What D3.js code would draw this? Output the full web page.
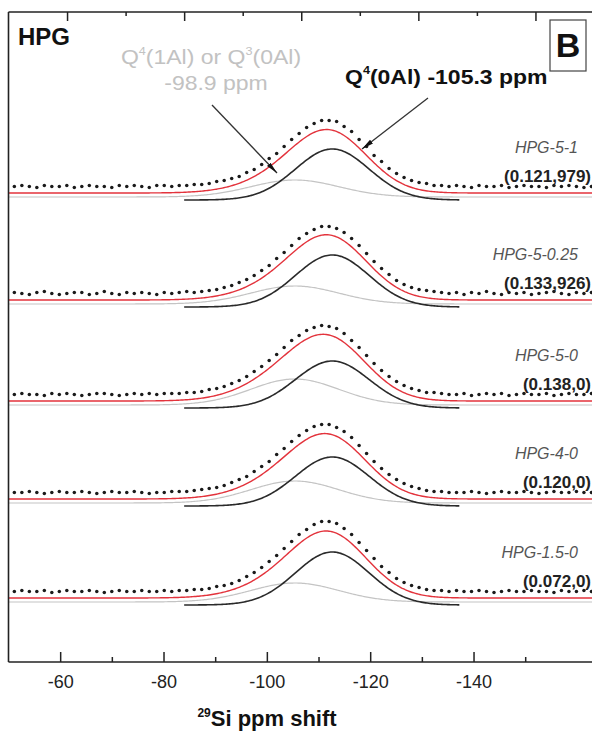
<!DOCTYPE html>
<html><head><meta charset="utf-8">
<script src="https://cdn.jsdelivr.net/npm/d3@7"></script>
<style>
body{margin:0;background:#fff}
svg{display:block;font-family:Arial,"Liberation Sans",sans-serif}
</style>
</head><body>
<svg id="c" width="592" height="733"></svg>
<script>
// ---------- data ----------
const samples = ["HPG-5-1", "HPG-5-0.25", "HPG-5-0", "HPG-4-0", "HPG-1.5-0"];
const sampleParams = ["(0.121,979)", "(0.133,926)", "(0.138,0)", "(0.120,0)", "(0.072,0)"];
// stacking offset (intensity units) of each spectrum's fit baseline
const stackOffset = [469, 362, 261, 163, 64];
// fitted components: Q4(1Al)/Q3(0Al) at -98.9 ppm, Q4(0Al) at -105.3 ppm
const peakCenters = [-98.9, -105.3];
const peakSigma = [7.5, 6.3];
const q4_1AlAmp = [17, 18, 26, 22, 19];
const q4_0AlAmp = [51, 52, 47, 49, 53];
// experimental points (intensity) on ppm grid dotStart + i*dotStep
const dotStart = -51, dotStep = -1.28;
const dots1 = [0,1,0,-1,1,0,0,1,-1,0,1,0,0,-1,1,0,1,0,-1,1, 1,0,1,1,2,2,3,5,6,8,10,14,17,22,28,33,40,47,53,59,63,66,66,65,60,55,47,40,31,25,18,13,9,6,4,3,1,1,0,1, 0,-1,1,0,0,1,-1,0,1,0,0,-1,1,0,1,0,-1,0];
const dots2 = [1,0,-1,1,2,0,-1,0,1,1,-1,0,2,0,-1,1,0,1,0,-1, 1,0,1,2,1,2,3,4,6,8,11,14,18,23,28,35,41,48,55,60,64,67,67,65,61,55,48,40,32,25,19,13,9,6,4,3,2,1,0,1, -1,1,0,2,0,-1,1,0,1,-1,0,1,2,0,-1,1,0,1];
const dots3 = [0,1,0,0,-1,1,0,1,0,-1,0,1,1,0,-1,0,1,0,1,0, 1,1,1,2,2,3,5,6,8,11,14,18,23,28,34,40,47,54,59,64,67,69,68,66,61,54,47,39,31,24,18,13,9,6,4,2,2,1,0,0, 1,-1,0,1,0,1,-1,0,1,0,0,1,-1,0,1,0,0,1];
const dots4 = [0,0,1,0,-1,0,1,0,0,1,0,-1,0,1,0,0,1,0,-1,0, 0,1,1,1,2,3,4,5,7,10,13,16,21,26,31,38,44,51,57,62,66,68,68,65,61,55,47,39,31,24,18,13,9,6,4,2,1,1,0,0, 0,1,0,-1,0,1,0,0,1,0,-1,0,1,0,0,1,0,0];
const dots5 = [0,1,0,0,1,-1,0,1,0,0,1,0,-1,0,1,0,0,1,0,0, 1,0,1,1,2,2,3,5,6,8,11,15,19,24,30,36,43,50,57,62,67,70,70,68,63,57,49,41,33,25,19,13,9,6,4,2,1,1,0,1, 0,0,1,0,-1,0,1,0,0,1,0,0,-1,1,0,0,1,0];
const allDots = [dots1, dots2, dots3, dots4, dots5];
const majorTicks = [-60, -80, -100, -120, -140];
const minorTicks = [-70, -90, -110, -130, -150];

// ---------- drawing ----------
const svg = d3.select("#c");
const L = 8.5, T = 12, B = 662;
const xData = d3.scaleLinear().domain([-50, -150]).range([L, 594]);
const xBottom = d3.scaleLinear().domain([-50, -150]).range([L, 525.2]);
const y = d3.scaleLinear().domain([0, 650]).range([B, T]);

const gauss = (p, c, s) => Math.exp(-((p - c) ** 2) / (2 * s * s));
const fine = d3.range(-50, -150.01, -0.25);
const fineBlack = d3.range(-80, -127.01, -0.25);

const defs = svg.append("defs");
defs.append("marker").attr("id", "ah").attr("viewBox", "0 0 12 6")
  .attr("refX", 12).attr("refY", 3).attr("markerWidth", 12).attr("markerHeight", 6)
  .attr("markerUnits", "userSpaceOnUse").attr("orient", "auto")
  .append("path").attr("d", "M0,0.6 L12,3 L0,5.4 Z").attr("fill", "#111");

const line = d3.line().x(d => xData(d[0])).y(d => y(d[1])).curve(d3.curveLinear);

samples.forEach((name, k) => {
  const off = stackOffset[k];
  const g = svg.append("g");
  // gray component
  g.append("path").attr("fill", "none").attr("stroke", "#c4c4c4").attr("stroke-width", 1.2)
    .attr("d", line(fine.map(p => [p, off - 4 + q4_1AlAmp[k] * gauss(p, peakCenters[0], peakSigma[0])])));
  // black component
  g.append("path").attr("fill", "none").attr("stroke", "#2a2a2a").attr("stroke-width", 1.6)
    .attr("d", line(fineBlack.map(p => [p, off - 7 + q4_0AlAmp[k] * gauss(p, peakCenters[1], peakSigma[1])])));
  // red envelope
  g.append("path").attr("fill", "none").attr("stroke", "#e3333c").attr("stroke-width", 1.4)
    .attr("d", line(fine.map(p => [p, off + q4_1AlAmp[k] * gauss(p, peakCenters[0], peakSigma[0]) + q4_0AlAmp[k] * gauss(p, peakCenters[1], peakSigma[1])])));
  // dots
  g.selectAll("circle").data(allDots[k]).join("circle")
    .attr("cx", (d, i) => xData(dotStart + i * dotStep))
    .attr("cy", d => y(off + 6.5 + d))
    .attr("r", 1.75).attr("fill", "#1a1a1a");
  // labels
  g.append("text").attr("x", 578).attr("y", y(off + 40)).attr("text-anchor", "end")
    .attr("font-style", "italic").attr("font-size", 16).attr("fill", "#555").text(name);
  g.append("text").attr("x", 591).attr("y", y(off + 11)).attr("text-anchor", "end")
    .attr("font-weight", "bold").attr("font-size", 17).attr("fill", "#222").text(sampleParams[k]);
});

// frame
svg.append("line").attr("x1", L).attr("x2", 592).attr("y1", T).attr("y2", T).attr("stroke", "#222").attr("stroke-width", 1.6);
svg.append("line").attr("x1", L).attr("x2", 592).attr("y1", B).attr("y2", B).attr("stroke", "#222").attr("stroke-width", 1.6);
svg.append("line").attr("x1", L).attr("x2", L).attr("y1", T).attr("y2", B).attr("stroke", "#222").attr("stroke-width", 1.6);

// bottom axis
const bAx = svg.append("g").attr("transform", `translate(0,${B})`)
  .call(d3.axisBottom(xBottom).tickValues(majorTicks).tickSize(-10).tickSizeOuter(0).tickPadding(13).tickFormat(d => String(d)));
bAx.select(".domain").remove();
bAx.selectAll("text").attr("font-size", 18).attr("fill", "#222").attr("font-family", "Arial,'Liberation Sans',sans-serif");
bAx.selectAll("line").attr("stroke", "#222").attr("stroke-width", 1.5);
const bMin = svg.append("g").attr("transform", `translate(0,${B})`)
  .call(d3.axisBottom(xBottom).tickValues(minorTicks).tickSize(-5).tickSizeOuter(0).tickFormat(""));
bMin.select(".domain").remove();
bMin.selectAll("line").attr("stroke", "#222").attr("stroke-width", 1.5);

// top axis (aligned with data)
const tAx = svg.append("g").attr("transform", `translate(0,${T})`)
  .call(d3.axisTop(xData).tickValues(majorTicks).tickSize(-9).tickSizeOuter(0).tickFormat(""));
tAx.select(".domain").remove();
tAx.selectAll("line").attr("stroke", "#222").attr("stroke-width", 1.5);
const tMin = svg.append("g").attr("transform", `translate(0,${T})`)
  .call(d3.axisTop(xData).tickValues(minorTicks).tickSize(-4).tickSizeOuter(0).tickFormat(""));
tMin.select(".domain").remove();
tMin.selectAll("line").attr("stroke", "#222").attr("stroke-width", 1.5);

// axis title
const at = svg.append("text").attr("x", 267).attr("y", 726).attr("text-anchor", "middle")
  .attr("font-weight", "bold").attr("font-size", 22).attr("fill", "#111");
at.append("tspan").attr("font-size", 12).attr("dy", -9).text("29");
at.append("tspan").attr("dy", 9).text("Si ppm shift");

// panel labels
svg.append("text").attr("x", 18).attr("y", 45).attr("font-weight", "bold").attr("font-size", 24).attr("fill", "#111").text("HPG");
svg.append("rect").attr("x", 550).attr("y", 20).attr("width", 36).attr("height", 51)
  .attr("fill", "#fff").attr("stroke", "#444").attr("stroke-width", 1.2);
svg.append("text").attr("x", 568).attr("y", 57).attr("text-anchor", "middle").attr("font-weight", "bold")
  .attr("font-size", 34).attr("fill", "#111").text("B");

// annotation: gray component
const ga = svg.append("g").attr("transform", "translate(211,64) scale(1.15,1)");
const gt = ga.append("text").attr("text-anchor", "middle").attr("font-size", 20).attr("fill", "#c2c2c2");
gt.append("tspan").text("Q");
gt.append("tspan").attr("font-size", 11).attr("dy", -9).text("4");
gt.append("tspan").attr("dy", 9).text("(1Al) or Q");
gt.append("tspan").attr("font-size", 11).attr("dy", -9).text("3");
gt.append("tspan").attr("dy", 9).text("(0Al)");
const ga2 = svg.append("g").attr("transform", "translate(216,90) scale(1.15,1)");
ga2.append("text").attr("text-anchor", "middle").attr("font-size", 20).attr("fill", "#c2c2c2").text("-98.9 ppm");

// annotation: black component
const ba = svg.append("g").attr("transform", "translate(345,84) scale(1.15,1)");
const bt = ba.append("text").attr("font-size", 20).attr("font-weight", "bold").attr("fill", "#111");
bt.append("tspan").text("Q");
bt.append("tspan").attr("font-size", 11).attr("dy", -10).text("4");
bt.append("tspan").attr("dy", 10).text("(0Al) -105.3 ppm");

// arrows
svg.append("line").attr("x1", 212).attr("y1", 105).attr("x2", 277).attr("y2", 173)
  .attr("stroke", "#333").attr("stroke-width", 1.3).attr("marker-end", "url(#ah)");
svg.append("line").attr("x1", 428).attr("y1", 98).attr("x2", 362).attr("y2", 149)
  .attr("stroke", "#333").attr("stroke-width", 1.3).attr("marker-end", "url(#ah)");
</script>
</body></html>
